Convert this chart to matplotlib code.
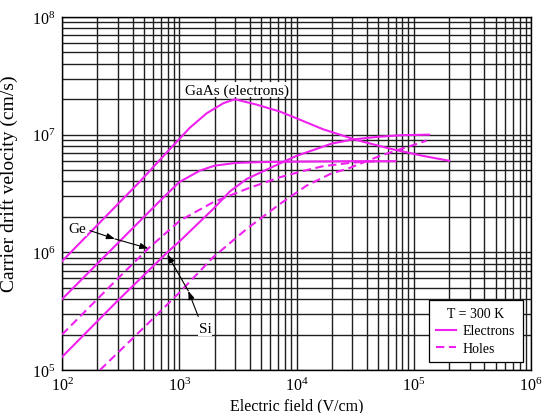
"""Carrier drift velocity vs electric field for Ge, Si and GaAs at 300 K."""
import matplotlib
matplotlib.use("Agg")
import matplotlib.pyplot as plt
from matplotlib.lines import Line2D
from matplotlib.ticker import LogLocator, LogFormatterMathtext, NullFormatter

plt.rcParams['font.family'] = ['Liberation Serif', 'DejaVu Serif']
plt.rcParams['mathtext.fontset'] = 'stix'

# --- data (E in V/cm, v in cm/s) ---
gaas_e_E = [100, 462, 889, 1236, 1714, 2377, 2985, 4570, 7230, 1.07e4, 1.69e4,
            3.26e4, 6.27e4, 1.2e5, 2.0e5]
gaas_e_v = [8.4e5, 4.0e6, 8.1e6, 1.15e7, 1.52e7, 1.85e7, 2.0e7, 1.8e7, 1.57e7,
            1.34e7, 1.11e7, 9.0e6, 7.6e6, 6.6e6, 6.0e6]

ge_e_E = [100, 200, 400, 700, 1000, 1500, 2000, 3000, 5000, 1e4, 3e4, 7e4]
ge_e_v = [4.0e5, 8.0e5, 1.6e6, 2.8e6, 3.95e6, 4.95e6, 5.45e6, 5.75e6, 5.85e6,
          5.9e6, 5.95e6, 5.95e6]

ge_h_E = [100, 300, 545, 1014, 1950, 3757, 7230, 1.22e4, 1.69e4, 2.3e4, 3e4, 5e4]
ge_h_v = [2.0e5, 6.0e5, 1.08e6, 1.86e6, 2.67e6, 3.46e6, 4.35e6, 5.0e6, 5.4e6,
          5.6e6, 5.8e6, 5.95e6]

si_e_E = [100, 300, 791, 1014, 1950, 2710, 3757, 7230, 1e4, 1.5e4, 2e4, 3e4,
          5e4, 8e4, 1.35e5]
si_e_v = [1.29e5, 3.9e5, 1.0e6, 1.25e6, 2.34e6, 3.3e6, 4.2e6, 5.7e6, 6.6e6,
          7.6e6, 8.4e6, 9.1e6, 9.6e6, 9.9e6, 1.0e7]

si_h_E = [211, 500, 1014, 1950, 3757, 7230, 1.22e4, 2e4, 2.68e4, 5.15e4, 1.29e5]
si_h_v = [1.0e5, 2.3e5, 4.6e5, 9.1e5, 1.58e6, 2.58e6, 3.69e6, 4.7e6, 5.1e6,
          6.6e6, 8.9e6]

MAGENTA = '#f020f0'
LW = 1.5
DASH = (4, 2.2)

fig = plt.figure(figsize=(5.43, 4.14), dpi=100)
ax = fig.add_axes([0.1142, 0.1039, 0.8637, 0.8526])
ax.set_xscale('log')
ax.set_yscale('log')
ax.set_xlim(1e2, 1e6)
ax.set_ylim(1e5, 1e8)

# dense log grid, every 1..9 of each decade
for axis in (ax.xaxis, ax.yaxis):
    axis.set_major_locator(LogLocator(base=10))
    axis.set_minor_locator(LogLocator(base=10, subs=range(2, 10)))
    axis.set_major_formatter(LogFormatterMathtext())
    axis.set_minor_formatter(NullFormatter())
ax.grid(True, which='both', color='0.12', lw=1.0)
ax.tick_params(which='both', length=0, labelsize=11.5, pad=5)
for sp in ax.spines.values():
    sp.set_color('black')
    sp.set_linewidth(1.0)

for E, v in [(gaas_e_E, gaas_e_v), (ge_e_E, ge_e_v), (si_e_E, si_e_v)]:
    ax.plot(E, v, color=MAGENTA, lw=LW, zorder=3)
for E, v in [(ge_h_E, ge_h_v), (si_h_E, si_h_v)]:
    ax.plot(E, v, color=MAGENTA, lw=LW, dashes=DASH, zorder=3)

ax.set_xlabel('Electric field (V/cm)', fontsize=11.5, labelpad=2)
ax.set_ylabel('Carrier drift velocity (cm/s)', fontsize=14)
ax.yaxis.set_label_coords(-0.094, 0.53)

ax.text(3.09e3, 2.4e7, 'GaAs (electrons)', fontsize=11, ha='center', va='center',
        zorder=4, bbox=dict(facecolor='white', edgecolor='none', pad=0.5))

arrow = dict(arrowstyle='-|>,head_length=0.5,head_width=0.18', color='black',
             lw=0.8, shrinkA=0, shrinkB=0)
ax.text(134, 1.58e6, 'Ge', fontsize=11, ha='center', va='center', zorder=4,
        bbox=dict(facecolor='white', edgecolor='none', pad=0.5))
ax.annotate('', xy=(283, 1.3e6), xytext=(173, 1.53e6), arrowprops=arrow, zorder=5)
ax.annotate('', xy=(545, 1.08e6), xytext=(283, 1.3e6), arrowprops=arrow, zorder=5)

ax.text(1660, 2.25e5, 'Si', fontsize=11, ha='center', va='center', zorder=4,
        bbox=dict(facecolor='white', edgecolor='none', pad=0.5))
ax.annotate('', xy=(1194, 4.7e5), xytext=(1452, 2.85e5), arrowprops=arrow, zorder=5)
ax.annotate('', xy=(791, 9.6e5), xytext=(1194, 4.7e5), arrowprops=arrow, zorder=5)

handles = [Line2D([], [], color=MAGENTA, lw=LW),
           Line2D([], [], color=MAGENTA, lw=LW, dashes=DASH)]
leg = ax.legend(handles, ['Electrons', 'Holes'], title='T = 300 K',
                loc='lower right', bbox_to_anchor=(0.982, 0.022),
                borderaxespad=0, fontsize=10, title_fontsize=10,
                fancybox=False, framealpha=1, edgecolor='black',
                handlelength=1.4, handletextpad=0.5, labelspacing=0.3,
                borderpad=0.55)
leg.get_frame().set_linewidth(0.9)
leg.set_zorder(6)

fig.savefig('out.png', dpi=100)
